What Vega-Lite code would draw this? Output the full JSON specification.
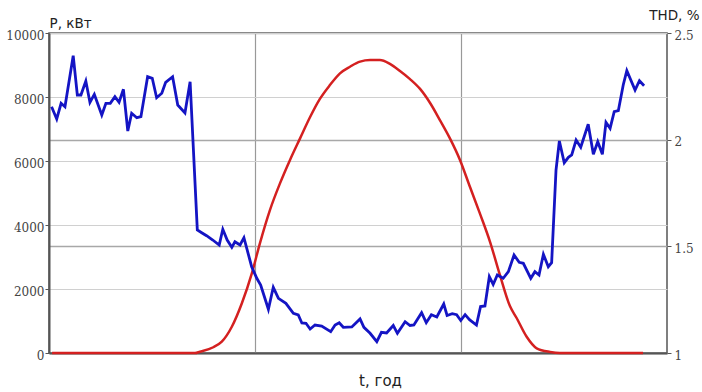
{
  "$schema": "https://vega.github.io/schema/vega-lite/v6.json",
  "width": 618,
  "height": 320,
  "autosize": {"type": "none"},
  "padding": {"left": 49, "top": 33, "right": 35, "bottom": 39},
  "background": "white",
  "config": {
    "view": {"stroke": "#555", "strokeWidth": 1.5},
    "axis": {
      "labelFont": "DejaVu Serif",
      "labelFontSize": 12,
      "labelColor": "#444",
      "titleFont": "DejaVu Sans",
      "titleFontWeight": "normal",
      "titleColor": "#222",
      "titleFontSize": 13.5,
      "domainColor": "#555",
      "domainWidth": 2,
      "tickColor": "#555",
      "tickSize": 4
    }
  },
  "datasets": {
    "power": [
      {"t": 0.10, "p": 7697}, {"t": 0.30, "p": 7313}, {"t": 0.47, "p": 7803}, {"t": 0.62, "p": 7697},
      {"t": 0.94, "p": 9291}, {"t": 1.10, "p": 8063}, {"t": 1.24, "p": 8063}, {"t": 1.43, "p": 8500},
      {"t": 1.59, "p": 7834}, {"t": 1.76, "p": 8084}, {"t": 2.05, "p": 7438}, {"t": 2.21, "p": 7803},
      {"t": 2.38, "p": 7803}, {"t": 2.56, "p": 8009}, {"t": 2.72, "p": 7834}, {"t": 2.89, "p": 8241},
      {"t": 3.06, "p": 6938}, {"t": 3.21, "p": 7491}, {"t": 3.41, "p": 7353}, {"t": 3.57, "p": 7384},
      {"t": 3.83, "p": 8634}, {"t": 4.01, "p": 8584}, {"t": 4.18, "p": 7978}, {"t": 4.38, "p": 8116},
      {"t": 4.53, "p": 8459}, {"t": 4.80, "p": 8634}, {"t": 5.00, "p": 7750}, {"t": 5.28, "p": 7500},
      {"t": 5.48, "p": 8478}, {"t": 5.76, "p": 3844}, {"t": 5.93, "p": 3759}, {"t": 6.12, "p": 3666},
      {"t": 6.36, "p": 3531}, {"t": 6.61, "p": 3375}, {"t": 6.75, "p": 3866}, {"t": 6.92, "p": 3531},
      {"t": 7.10, "p": 3303}, {"t": 7.22, "p": 3478}, {"t": 7.42, "p": 3375}, {"t": 7.57, "p": 3603},
      {"t": 7.87, "p": 2697}, {"t": 8.07, "p": 2334}, {"t": 8.22, "p": 2125}, {"t": 8.52, "p": 1366},
      {"t": 8.71, "p": 2053}, {"t": 8.91, "p": 1709}, {"t": 9.20, "p": 1553}, {"t": 9.49, "p": 1241},
      {"t": 9.68, "p": 1188}, {"t": 9.82, "p": 938}, {"t": 9.98, "p": 928}, {"t": 10.14, "p": 750},
      {"t": 10.33, "p": 875}, {"t": 10.59, "p": 844}, {"t": 10.94, "p": 666}, {"t": 11.11, "p": 875},
      {"t": 11.27, "p": 947}, {"t": 11.43, "p": 803}, {"t": 11.76, "p": 813}, {"t": 12.08, "p": 1063},
      {"t": 12.23, "p": 803}, {"t": 12.47, "p": 616}, {"t": 12.73, "p": 353}, {"t": 12.91, "p": 647},
      {"t": 13.11, "p": 625}, {"t": 13.37, "p": 859}, {"t": 13.53, "p": 616}, {"t": 13.83, "p": 978},
      {"t": 14.02, "p": 859}, {"t": 14.17, "p": 875}, {"t": 14.47, "p": 1259}, {"t": 14.65, "p": 947},
      {"t": 14.85, "p": 1197}, {"t": 15.06, "p": 1125}, {"t": 15.33, "p": 1531}, {"t": 15.46, "p": 1172},
      {"t": 15.66, "p": 1228}, {"t": 15.83, "p": 1197}, {"t": 15.99, "p": 1016}, {"t": 16.16, "p": 1197},
      {"t": 16.33, "p": 1041}, {"t": 16.60, "p": 875}, {"t": 16.76, "p": 1453}, {"t": 16.93, "p": 1469},
      {"t": 17.10, "p": 2384}, {"t": 17.25, "p": 2141}, {"t": 17.41, "p": 2438}, {"t": 17.64, "p": 2334},
      {"t": 17.84, "p": 2541}, {"t": 18.06, "p": 3063}, {"t": 18.26, "p": 2834}, {"t": 18.42, "p": 2803},
      {"t": 18.71, "p": 2334}, {"t": 18.87, "p": 2541}, {"t": 19.03, "p": 2438}, {"t": 19.20, "p": 3084},
      {"t": 19.39, "p": 2697}, {"t": 19.52, "p": 2822}, {"t": 19.69, "p": 5719}, {"t": 19.82, "p": 6625},
      {"t": 20.01, "p": 5947}, {"t": 20.17, "p": 6116}, {"t": 20.30, "p": 6188}, {"t": 20.47, "p": 6656},
      {"t": 20.65, "p": 6428}, {"t": 20.94, "p": 7147}, {"t": 21.14, "p": 6209}, {"t": 21.31, "p": 6603},
      {"t": 21.49, "p": 6209}, {"t": 21.63, "p": 7209}, {"t": 21.79, "p": 7022}, {"t": 21.95, "p": 7541},
      {"t": 22.11, "p": 7572}, {"t": 22.30, "p": 8375}, {"t": 22.44, "p": 8822}, {"t": 22.76, "p": 8219},
      {"t": 22.93, "p": 8509}, {"t": 23.11, "p": 8353}
    ],
    "thd": [
      {"t": 0.12, "v": 1.0}, {"t": 5.67, "v": 1.0}, {"t": 5.86, "v": 1.006}, {"t": 6.38, "v": 1.027},
      {"t": 6.71, "v": 1.053}, {"t": 7.10, "v": 1.123}, {"t": 7.49, "v": 1.233}, {"t": 7.88, "v": 1.374},
      {"t": 8.19, "v": 1.514}, {"t": 8.58, "v": 1.670}, {"t": 8.97, "v": 1.795}, {"t": 9.36, "v": 1.905},
      {"t": 9.75, "v": 2.006}, {"t": 10.14, "v": 2.106}, {"t": 10.52, "v": 2.191}, {"t": 10.91, "v": 2.256},
      {"t": 11.30, "v": 2.311}, {"t": 11.69, "v": 2.342}, {"t": 12.08, "v": 2.366}, {"t": 12.47, "v": 2.373},
      {"t": 12.85, "v": 2.373}, {"t": 13.24, "v": 2.355}, {"t": 13.63, "v": 2.322}, {"t": 14.02, "v": 2.284},
      {"t": 14.41, "v": 2.238}, {"t": 14.80, "v": 2.172}, {"t": 15.18, "v": 2.092}, {"t": 15.57, "v": 2.006},
      {"t": 15.96, "v": 1.905}, {"t": 16.35, "v": 1.778}, {"t": 16.74, "v": 1.652}, {"t": 17.13, "v": 1.520},
      {"t": 17.51, "v": 1.366}, {"t": 17.90, "v": 1.220}, {"t": 18.16, "v": 1.164}, {"t": 18.55, "v": 1.076},
      {"t": 18.94, "v": 1.022}, {"t": 19.46, "v": 1.005}, {"t": 19.84, "v": 1.0}, {"t": 23.07, "v": 1.0}
    ]
  },
  "layer": [
    {
      "data": {"name": "thd"},
      "mark": {"type": "line", "color": "#d42020", "strokeWidth": 2.5, "interpolate": "monotone"},
      "encoding": {
        "x": {
          "field": "t", "type": "quantitative",
          "scale": {"domain": [0, 24], "nice": false},
          "axis": {
            "values": [8, 16], "labels": false, "ticks": false,
            "grid": true, "gridColor": "#999", "gridWidth": 1.2,
            "title": "t, год", "titleFontSize": 15, "titleColor": "#222",
            "titleAnchor": null, "titleAlign": "center", "titleBaseline": "middle",
            "titleX": 331, "titleY": 27
          }
        },
        "y": {
          "field": "v", "type": "quantitative",
          "scale": {"domain": [1, 2.5], "nice": false, "zero": false},
          "axis": {
            "orient": "right", "values": [1, 1.5, 2, 2.5],
            "labelExpr": "datum.value + ''",
            "grid": true, "gridColor": "#a8a8a8", "gridWidth": 1.6,
            "domain": false, "labelPadding": 3, "labelOffset": 2,
            "title": "THD, %", "titleAngle": 0, "titleAlign": "right", "titleBaseline": "middle",
            "titleX": 32, "titleY": -18
          }
        }
      }
    },
    {
      "data": {"name": "power"},
      "mark": {"type": "line", "color": "#1414c4", "strokeWidth": 2.8},
      "encoding": {
        "x": {"field": "t", "type": "quantitative"},
        "y": {
          "field": "p", "type": "quantitative",
          "scale": {"domain": [0, 10000], "nice": false},
          "axis": {
            "orient": "left", "values": [0, 2000, 4000, 6000, 8000, 10000],
            "format": "d",
            "grid": true, "gridColor": "#d0d0d0", "gridWidth": 1.2,
            "labelPadding": 1, "labelOffset": 2,
            "title": "P, кВт", "titleAngle": 0, "titleAlign": "left", "titleBaseline": "middle",
            "titleX": 0, "titleY": -10
          }
        }
      }
    }
  ],
  "resolve": {"scale": {"y": "independent"}}
}
